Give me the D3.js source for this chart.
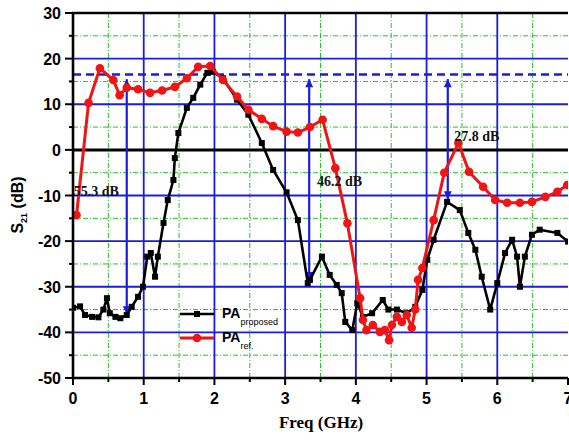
<!DOCTYPE html>
<html>
<head>
<meta charset="utf-8">
<script src="https://cdn.jsdelivr.net/npm/d3@7"></script>
<style>
  html, body { margin: 0; background: #fff; }
</style>
</head>
<body>
<div id="chart"></div>
<script>
// S21 vs frequency, proposed PA (black squares) against reference PA (red circles).
const propFreq = [0, 0.1, 0.17, 0.27, 0.36, 0.43, 0.48, 0.52, 0.6, 0.67, 0.76, 0.83, 0.92, 0.99,
  1.05, 1.1, 1.16, 1.2, 1.28, 1.34, 1.42, 1.44, 1.49, 1.61, 1.7, 1.8, 1.9, 1.98, 2.12, 2.32,
  2.48, 2.67, 2.83, 3.02, 3.18, 3.32, 3.35, 3.52, 3.63, 3.73, 3.8, 3.85, 3.95, 4.02, 4.1,
  4.23, 4.38, 4.46, 4.58, 4.72, 4.84, 4.94, 5.01, 5.1, 5.29, 5.47, 5.59, 5.69, 5.78, 5.9,
  6.0, 6.11, 6.21, 6.28, 6.32, 6.39, 6.49, 6.6, 6.85, 7.0];
const propS21 = [-34.6, -34.3, -36.2, -36.6, -36.7, -35, -32.5, -35.8, -36.6, -36.9, -36.2, -34.4, -32.2, -30,
  -23.4, -22.6, -27.8, -23.4, -16, -11, -6.6, -1.8, 3.7, 9.2, 11.4, 14.3, 16.9, 17.1, 15.7, 11,
  7.7, 1.5, -4.4, -9.3, -15.4, -29.2, -28.5, -23.4, -27.4, -29.6, -31.4, -37.7, -39.5, -33.6, -36.6,
  -35.8, -32.9, -35, -35, -35.8, -34.4, -30.7, -24.1, -19.7, -11.4, -13.2, -18.2, -21.9, -27.8, -35,
  -29.2, -22.6, -19.7, -23.4, -30, -23.4, -18.6, -17.5, -18.2, -20.1];

const refFreq = [0.05, 0.22, 0.38, 0.57, 0.66, 0.76, 0.92, 1.09, 1.26, 1.44, 1.61, 1.77, 1.94, 2.12,
  2.32, 2.48, 2.67, 2.83, 3.02, 3.18, 3.35, 3.53, 3.71, 3.88, 4.06, 4.1, 4.15, 4.24, 4.34, 4.41,
  4.47, 4.51, 4.58, 4.65, 4.72, 4.79, 4.84, 4.88, 4.94, 5.1, 5.25, 5.45, 5.6, 5.8, 5.97, 6.14,
  6.32, 6.49, 6.68, 6.85, 6.99];
const refS21 = [-14.3, 10.3, 17.9, 15.3, 12, 13.6, 13.3, 12.5, 13, 13.8, 15.7, 18.2, 18.4, 15.3,
  11.7, 8.8, 6.8, 5.2, 4, 3.8, 5, 6.6, -4, -16.1, -32.5, -37.3, -39.5, -38.4, -39.9, -39.5,
  -41.7, -38.4, -36.6, -37.7, -36.2, -39, -35, -28.5, -25.9, -15.4, -5, 1.5, -4.8, -8.1, -11, -11.6,
  -11.6, -11.4, -10.3, -9.2, -7.7];

const xTicks = [0, 1, 2, 3, 4, 5, 6, 7];
const xMinor = [0.5, 1.5, 2.5, 3.5, 4.5, 5.5, 6.5];
const yTicks = [30, 20, 10, 0, -10, -20, -30, -40, -50];
const yMinor = [25, 15, 5, -5, -15, -25, -35, -45];

const refLevel = 16.5;          // dashed reference line
const arrowTop = 15.5;
const arrowFreq = [0.76, 3.34, 5.3];
const arrowLow = [-36, -28.5, -10.8];
const arrowLabel = ["55.3 dB", "46.2 dB", "27.8 dB"];
const labelFreq = [0.01, 3.45, 5.39];
const labelS21 = [-10.1, -7.9, 2.0];

const W = 569, H = 441;
const blue = "#1c1cdc", green = "#22c422", red = "#f01414";

const x = d3.scaleLinear().domain([0, 7]).range([73, 568]);
const y = d3.scaleLinear().domain([-50, 30]).range([378, 13]);

const svg = d3.select("#chart").append("svg")
  .attr("width", W).attr("height", H)
  .attr("viewBox", `0 0 ${W} ${H}`);

const defs = svg.append("defs");
defs.append("clipPath").attr("id", "plot")
  .append("rect")
  .attr("x", x(0)).attr("y", y(30))
  .attr("width", x(7) - x(0)).attr("height", y(-50) - y(30));
defs.append("marker").attr("id", "head")
  .attr("viewBox", "0 0 10 10").attr("refX", 10).attr("refY", 5)
  .attr("markerUnits", "userSpaceOnUse")
  .attr("markerWidth", 9).attr("markerHeight", 8)
  .attr("orient", "auto-start-reverse")
  .append("path").attr("d", "M0,0 L10,5 L0,10 Z").attr("fill", blue);

// grid: green dash-dot minors, blue majors
const grid = svg.append("g");
grid.selectAll("line.xm").data(xMinor).join("line")
  .attr("x1", (d) => x(d)).attr("x2", (d) => x(d))
  .attr("y1", y(30)).attr("y2", y(-50))
  .attr("stroke", green).attr("stroke-width", 1).attr("stroke-dasharray", "5,2,1,2");
grid.selectAll("line.ym").data(yMinor).join("line")
  .attr("x1", x(0)).attr("x2", x(7))
  .attr("y1", (d) => y(d)).attr("y2", (d) => y(d))
  .attr("stroke", green).attr("stroke-width", 1).attr("stroke-dasharray", "5,2,1,2");
grid.selectAll("line.xM").data(xTicks.filter((d) => d > 0 && d < 7)).join("line")
  .attr("x1", (d) => x(d)).attr("x2", (d) => x(d))
  .attr("y1", y(30)).attr("y2", y(-50))
  .attr("stroke", blue).attr("stroke-width", 1.8);
grid.selectAll("line.yM").data(yTicks.filter((d) => d !== 0 && d !== 30 && d !== -50)).join("line")
  .attr("x1", x(0)).attr("x2", x(7))
  .attr("y1", (d) => y(d)).attr("y2", (d) => y(d))
  .attr("stroke", blue).attr("stroke-width", 1.8);
grid.append("line")
  .attr("x1", x(0)).attr("x2", x(7)).attr("y1", y(0)).attr("y2", y(0))
  .attr("stroke", "#000").attr("stroke-width", 3);
grid.append("line")
  .attr("x1", x(0)).attr("x2", x(7)).attr("y1", y(refLevel)).attr("y2", y(refLevel))
  .attr("stroke", blue).attr("stroke-width", 2.5).attr("stroke-dasharray", "8,5");

// level-difference arrows
svg.append("g").selectAll("line").data(arrowFreq).join("line")
  .attr("x1", (d) => x(d)).attr("x2", (d) => x(d))
  .attr("y1", (d, i) => y(arrowLow[i])).attr("y2", y(arrowTop))
  .attr("stroke", blue).attr("stroke-width", 2.2)
  .attr("marker-start", "url(#head)").attr("marker-end", "url(#head)");

const line = d3.line().x((d) => x(d[0])).y((d) => y(d[1]));
const propPts = propFreq.map((f, i) => [f, propS21[i]]);
const refPts = refFreq.map((f, i) => [f, refS21[i]]);

const curves = svg.append("g").attr("clip-path", "url(#plot)");
curves.append("path").attr("d", line(propPts))
  .attr("fill", "none").attr("stroke", "#000").attr("stroke-width", 2.6)
  .attr("stroke-linejoin", "round");
curves.selectAll("rect.sq").data(propPts).join("rect")
  .attr("x", (d) => x(d[0]) - 3).attr("y", (d) => y(d[1]) - 3)
  .attr("width", 6).attr("height", 6).attr("fill", "#000");
curves.append("path").attr("d", line(refPts))
  .attr("fill", "none").attr("stroke", red).attr("stroke-width", 3)
  .attr("stroke-linejoin", "round");
curves.selectAll("circle.ci").data(refPts).join("circle")
  .attr("cx", (d) => x(d[0])).attr("cy", (d) => y(d[1]))
  .attr("r", 4.3).attr("fill", red);

// annotations
svg.append("g").selectAll("text").data(arrowLabel).join("text")
  .attr("x", (d, i) => x(labelFreq[i])).attr("y", (d, i) => y(labelS21[i]))
  .attr("font-family", "'Liberation Serif', 'Times New Roman', serif")
  .attr("font-weight", "bold").attr("font-size", 14).attr("fill", "#111")
  .text((d) => d);

// frame and ticks
const axes = svg.append("g").attr("stroke", "#000");
axes.append("line").attr("x1", x(0)).attr("x2", x(0)).attr("y1", y(30) - 1).attr("y2", y(-50) + 1.2).attr("stroke-width", 2.6);
axes.append("line").attr("x1", x(0) - 1).attr("x2", x(7)).attr("y1", y(-50)).attr("y2", y(-50)).attr("stroke-width", 2.6);
axes.append("line").attr("x1", x(0) - 1).attr("x2", x(7)).attr("y1", y(30)).attr("y2", y(30)).attr("stroke-width", 2.6);
axes.selectAll("line.yt").data(yTicks).join("line")
  .attr("x1", x(0) - 8).attr("x2", x(0)).attr("y1", (d) => y(d)).attr("y2", (d) => y(d)).attr("stroke-width", 2);
axes.selectAll("line.ymt").data(yMinor).join("line")
  .attr("x1", x(0) - 4).attr("x2", x(0)).attr("y1", (d) => y(d)).attr("y2", (d) => y(d)).attr("stroke-width", 2);
axes.selectAll("line.xt").data(xTicks).join("line")
  .attr("x1", (d) => x(d)).attr("x2", (d) => x(d)).attr("y1", y(-50)).attr("y2", y(-50) + 7).attr("stroke-width", 2);
axes.selectAll("line.xmt").data(xMinor).join("line")
  .attr("x1", (d) => x(d)).attr("x2", (d) => x(d)).attr("y1", y(-50)).attr("y2", y(-50) + 4).attr("stroke-width", 2);

const sans = "'Liberation Sans', Arial, sans-serif";
svg.append("g").selectAll("text").data(yTicks).join("text")
  .attr("x", 61).attr("y", (d) => y(d) + 6)
  .attr("text-anchor", "end").attr("font-family", sans)
  .attr("font-weight", "bold").attr("font-size", 16).text((d) => d);
svg.append("g").selectAll("text").data(xTicks).join("text")
  .attr("x", (d) => x(d)).attr("y", 404)
  .attr("text-anchor", "middle").attr("font-family", sans)
  .attr("font-weight", "bold").attr("font-size", 16).text((d) => d);

svg.append("text")
  .attr("x", 321).attr("y", 428).attr("text-anchor", "middle")
  .attr("font-family", "'Liberation Serif', 'Times New Roman', serif")
  .attr("font-weight", "bold").attr("font-size", 17).text("Freq (GHz)");

const yl = svg.append("text")
  .attr("transform", "translate(23,205) rotate(-90)")
  .attr("text-anchor", "middle").attr("font-family", sans)
  .attr("font-weight", "bold").attr("font-size", 16);
yl.append("tspan").text("S");
yl.append("tspan").attr("font-size", 9).attr("dy", 4).text("21");
yl.append("tspan").attr("dy", -4).text(" (dB)");

// legend
const legend = svg.append("g");
const legendRows = [
  { color: "#000", sub: "proposed", yy: 314, sq: true },
  { color: red, sub: "ref.", yy: 338, sq: false },
];
const lr = legend.selectAll("g").data(legendRows).join("g");
lr.append("line").attr("x1", 180).attr("x2", 214)
  .attr("y1", (d) => d.yy).attr("y2", (d) => d.yy)
  .attr("stroke", (d) => d.color).attr("stroke-width", (d) => (d.sq ? 2.6 : 3));
lr.filter((d) => d.sq).append("rect")
  .attr("x", 194).attr("y", (d) => d.yy - 3).attr("width", 6).attr("height", 6).attr("fill", "#000");
lr.filter((d) => !d.sq).append("circle")
  .attr("cx", 197).attr("cy", (d) => d.yy).attr("r", 4.3).attr("fill", red);
const lt = lr.append("text").attr("x", 222).attr("y", (d) => d.yy + 4)
  .attr("font-family", sans).attr("font-weight", "bold").attr("font-size", 14);
lt.append("tspan").text("PA");
lt.append("tspan").attr("font-size", 9).attr("font-weight", "normal").attr("dy", 7).text((d) => d.sub);
</script>
</body>
</html>
